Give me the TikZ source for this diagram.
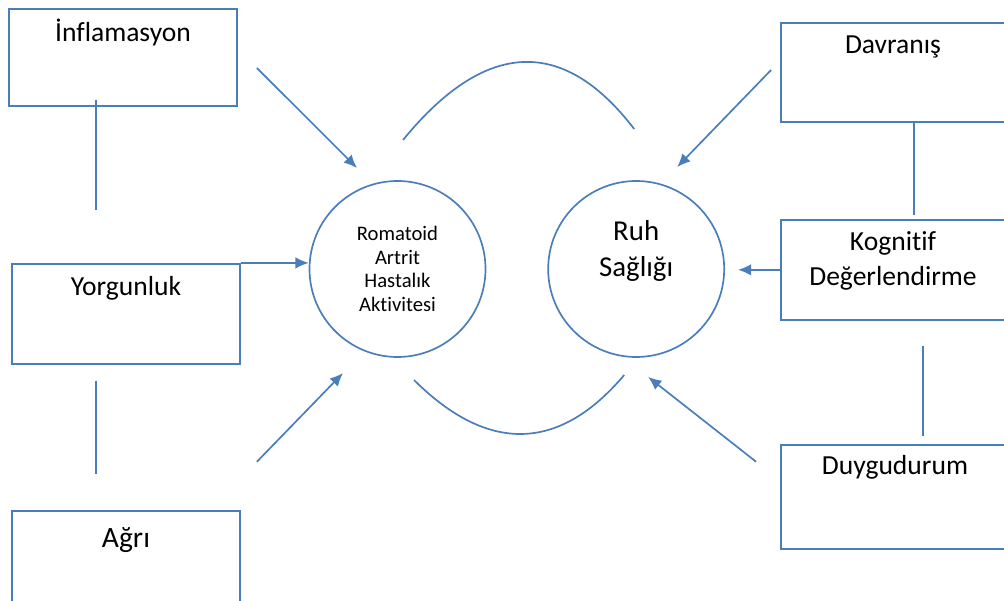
\documentclass[tikz,border=0pt]{standalone}
\usepackage{fontspec}
\setmainfont{Carlito}[Ligatures=NoCommon]
\usetikzlibrary{positioning, arrows.meta}
\definecolor{lineblue}{RGB}{74,126,187}

\begin{document}
\begin{tikzpicture}[box/.style={rectangle, 
      draw=lineblue, 
      line width=1.3pt, 
      minimum width=5.7cm, 
      minimum height=#1, 
      inner sep=0pt},
    circ/.style={circle, 
      draw=lineblue, 
      line width=1.2pt, 
      minimum size=4.4cm, 
      inner sep=0pt},
    boxtext/.style={align=center, inner sep=0pt, font=\fontsize{19.6}{25}\selectfont},
    link/.style={draw=lineblue, line width=1.2pt},
    arr/.style={link, -{Latex[length=3.3mm, width=2.9mm]}}]

  \clip (0,0) rectangle (25.1,15);


  \node [box=2.425cm] (inf) at (3.075,13.5625) {};
  \node [box=2.5cm, below=3.9cm of inf, xshift=0.075cm] (yor) {};
  \node [box=2.5cm, below=3.625cm of yor] (agr) {};

  \node [box=2.475cm] (dav) at (22.375,13.1875) {};
  \node [box=2.5cm, below=2.4cm of dav] (kog) {};
  \node [box=2.6cm, below=3.075cm of kog] (duy) {};

  \node [circ] (ra) at (9.9375,8.275) {};
  \node [circ, right=1.525cm of ra] (ruh) {};


  \node [boxtext] (inftxt) at ([yshift=-0.6cm]inf.north) {İnflamasyon};
  \node [boxtext] (yortxt) at ([yshift=-0.625cm]yor.north) {Yorgunluk};
  \node [boxtext, font=\fontsize{21}{25}\selectfont] (agrtxt) 
    at ([yshift=-0.75cm]agr.north) {Ağrı};
  \node [boxtext] (davtxt) at ([xshift=-0.05cm, yshift=-0.625cm]dav.north) {Davranış};
  \node [boxtext] (kogtxt) at ([xshift=-0.05cm, yshift=-1.05cm]kog.north) 
    {Kognitif\\Değerlendirme};
  \node [boxtext] (duytxt) at ([yshift=-0.6cm]duy.north) {Duygudurum};

  \node [boxtext, font=\fontsize{14.7}{16.7}\selectfont] (ratxt) at (ra.center) 
    {Romatoid\\Artrit\\Hastalık\\Aktivitesi};
  \node [boxtext, font=\fontsize{20.5}{26}\selectfont] (ruhtxt) 
    at ([yshift=0.45cm]ruh.center) {Ruh\\Sağlığı};


  \draw[link] ([xshift=-0.675cm, yshift=0.175cm]inf.south) 
  -- ([xshift=-0.75cm, yshift=1.325cm]yor.north);
  \draw[link] ([xshift=-0.75cm, yshift=-0.4cm]yor.south) 
  -- ([xshift=-0.75cm, yshift=0.9cm]agr.north);
  \draw[link] ([xshift=0.475cm]dav.south) 
  -- ([xshift=0.475cm, yshift=0.1cm]kog.north);
  \draw[link] ([xshift=0.7cm, yshift=-0.625cm]kog.south) 
  -- ([xshift=0.7cm, yshift=0.2cm]duy.north);

  \draw[arr] ([shift={(0.475,-0.2625)}]inf.east) 
  -- ([shift={(-1.0125,2.525)}]ra.center);
  \draw[arr] (yor.north east) -- (yor.north east -| ra.west);
  \draw[arr] ([shift={(0.4,1.2)}]agr.north east) 
  -- ([shift={(-1.3625,-2.6)}]ra.center);

  \draw[arr] ([shift={(-0.225,0.0625)}]dav.west) 
  -- ([shift={(1.025,2.55)}]ruh.center);
  \draw[arr, shorten >=0.325cm] (kog.west) -- (kog.west -| ruh.east);
  \draw[arr] ([shift={(-0.6,-0.45)}]duy.north west) 
  -- ([shift={(0.3,-2.7)}]ruh.center);

  \draw[link] ([shift={(0.1375,3.225)}]ra.center) 
  .. controls +(2.05,2.5075) and +(-1.78,2.325) .. ([shift={(-0.05,3.5)}]ruh.center);
  \draw[link] ([shift={(0.4125,-2.775)}]ra.center) 
  .. controls +(1.85,-1.84) and +(-1.625,-1.925) .. ([shift={(-0.3,-2.65)}]ruh.center);

\end{tikzpicture}
\end{document}
